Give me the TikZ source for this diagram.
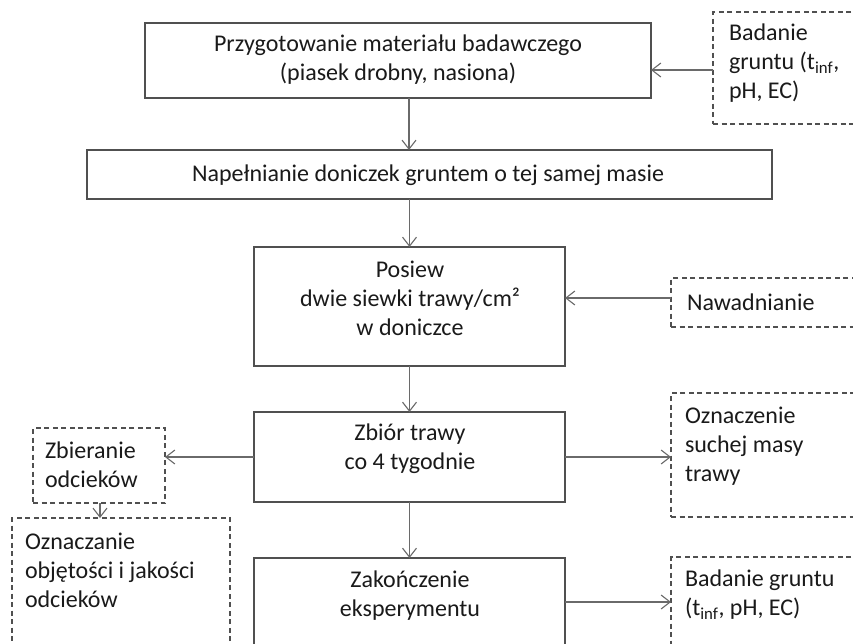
\documentclass[tikz,border=0pt]{standalone}
\usepackage{fontspec}
\setmainfont{Carlito}
\usetikzlibrary{arrows.meta}
\definecolor{linec}{HTML}{505050}
\definecolor{arrc}{HTML}{6A6A6A}
\definecolor{txtc}{HTML}{1A1A1A}
\begin{document}
\begin{tikzpicture}[x=1pt,y=-1pt,
  every node/.style={inner sep=0pt,outer sep=0pt},
  boxs/.style={draw=linec,line width=1.3pt,rectangle},
  dbox/.style={draw=linec,line width=1.1pt,rectangle,dash pattern=on 5pt off 3.5pt},
  txt/.style={text=txtc,font=\fontsize{24}{29}\selectfont},
  ctxt/.style={txt,align=center},
  ltxt/.style={txt,align=left,anchor=west},
  arr/.style={draw=arrc,line width=1.1pt,-{Straight Barb[length=9pt,width=14pt,line width=1.1pt]}}]
\useasboundingbox (0,0) rectangle (853,643);
\clip (0,0) rectangle (853,643);
\fill[white] (0,0) rectangle (853,643);
% main boxes
\node[boxs,minimum width=506pt,minimum height=75pt] (b1) at (398,60.5) {};
\node[ctxt] (t1) at (398,60) {Przygotowanie materiału badawczego\\(piasek drobny, nasiona)};
\node[boxs,minimum width=685pt,minimum height=49pt] (b2) at (429.5,174.5) {};
\node[ctxt] (t2) at (428,175) {Napełnianie doniczek gruntem o tej samej masie};
\node[boxs,minimum width=311pt,minimum height=119pt] (b3) at (409.5,306.5) {};
\node[ctxt] (t3) at (410,298) {Posiew\\dwie siewki trawy/cm²\\w doniczce};
\node[boxs,minimum width=311pt,minimum height=90pt] (b4) at (409.5,457) {};
\node[ctxt] (t4) at (410,449) {Zbiór trawy\\co 4 tygodnie};
\node[boxs,minimum width=311pt,minimum height=120pt] (b5) at (409.5,618) {};
\node[ctxt] (t5) at (410,596) {Zakończenie\\eksperymentu};
% dashed boxes
\node[dbox,minimum width=200pt,minimum height=112pt] (tr) at (813,68) {};
\node[ltxt] (ttr) at (729,63) {Badanie\\gruntu (t\textsubscript{inf},\\pH, EC)};
\node[dbox,minimum width=200pt,minimum height=49pt] (naw) at (771,302.5) {};
\node[ltxt] (tnaw) at (687,302) {Nawadnianie};
\node[dbox,minimum width=132pt,minimum height=75pt] (zb) at (99,465.5) {};
\node[ltxt] (tzb) at (45,465) {Zbieranie\\odcieków};
\node[dbox,minimum width=218pt,minimum height=160pt] (oz) at (121,598) {};
\node[ltxt] (toz) at (25,570) {Oznaczanie\\objętości i jakości\\odcieków};
\node[dbox,minimum width=200pt,minimum height=124pt] (ozn) at (771,455) {};
\node[ltxt] (tozn) at (685,446) {Oznaczenie\\suchej masy\\trawy};
\node[dbox,minimum width=200pt,minimum height=120pt] (bg) at (771,617) {};
\node[ltxt] (tbg) at (685,595) {Badanie gruntu\\(t\textsubscript{inf}, pH, EC)};
% connectors
\draw[arr] (tr.west |- 0,70) -- (b1.east |- 0,70);
\draw[arr] (b1.south -| 409,0) -- (b2.north -| 409,0);
\draw[arr] (b2.south -| b3.north) -- (b3.north);
\draw[arr] (naw.west |- 0,298) -- (b3.east |- 0,298);
\draw[arr] (b3.south) -- (b4.north);
\draw[arr] (b4.west) -- (b4.west -| zb.east);
\draw[arr] (b4.east) -- (b4.east -| ozn.west);
\draw[arr] (zb.south -| 100,0) -- (oz.north -| 100,0);
\draw[arr] (b4.south) -- (b5.north);
\draw[arr] (b5.east |- 0,602) -- (bg.west |- 0,602);
\end{tikzpicture}
\end{document}
